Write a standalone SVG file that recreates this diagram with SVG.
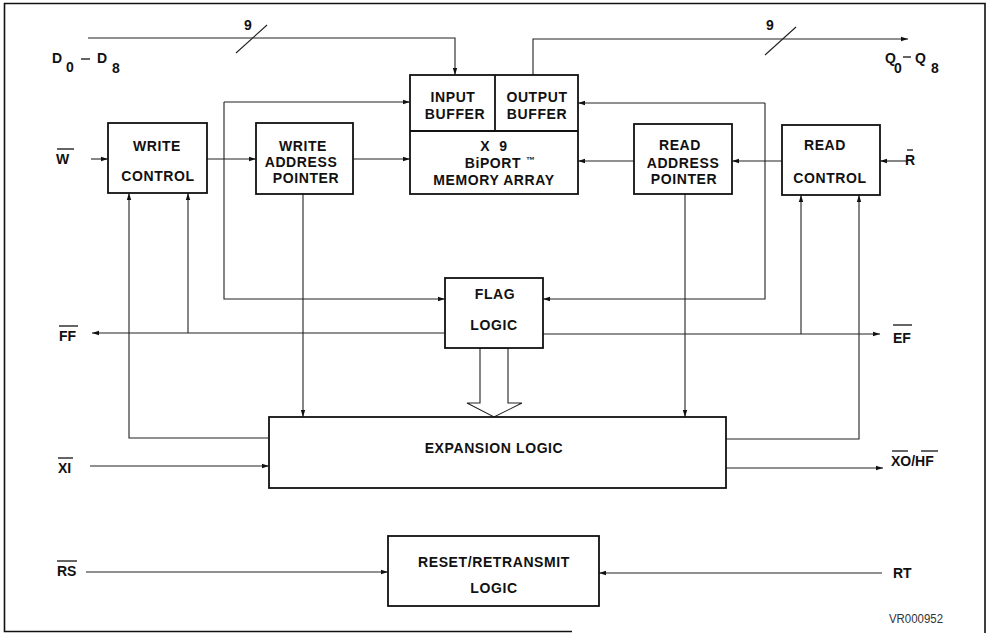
<svg xmlns="http://www.w3.org/2000/svg" width="991" height="633" viewBox="0 0 991 633">
<style>
.box{fill:#fff;stroke:#111;stroke-width:1.8}
.ln{fill:none;stroke:#222;stroke-width:1.1}
.ar{marker-end:url(#ah)}
.t{font-family:"Liberation Sans",Arial,sans-serif;font-weight:bold;font-size:14px;fill:#111;text-anchor:middle;letter-spacing:0.6px}
.lb{font-family:"Liberation Sans",Arial,sans-serif;font-weight:bold;font-size:14px;fill:#111}
.ov{stroke:#111;stroke-width:1.3}
</style>
<defs>
<marker id="ah" markerUnits="userSpaceOnUse" markerWidth="8" markerHeight="6" refX="7" refY="3" orient="auto">
<path d="M0,0.8 L7,3 L0,5.2 Z" fill="#111"/>
</marker>
</defs>
<rect width="991" height="633" fill="#fff"/>
<path class="ln" d="M572,631.5 H4.5 V3.5 H985 V633" style="stroke:#111;stroke-width:1.6"/>

<g id="connectors">
<path class="ln ar" d="M88,38 H455 V75"/>
<path class="ln" d="M236,53 L267,25"/>
<path class="ln ar" d="M533,75 V39 H908"/>
<path class="ln" d="M765,55 L796,27"/>
<path class="ln ar" d="M224,102 H410"/>
<path class="ln ar" d="M224,102 V299 H445"/>
<path class="ln ar" d="M765,103 H578"/>
<path class="ln ar" d="M765,103 V299 H543"/>
<path class="ln ar" d="M91,159 H108"/>
<path class="ln ar" d="M207,159 H256"/>
<path class="ln ar" d="M353,159 H410"/>
<path class="ln ar" d="M634,161 H578"/>
<path class="ln ar" d="M782,161 H732"/>
<path class="ln ar" d="M907,161 H880"/>
<path class="ln ar" d="M269,438 H129 V193"/>
<path class="ln ar" d="M188,333 V193"/>
<path class="ln ar" d="M445,333 H92"/>
<path class="ln ar" d="M543,334 H880"/>
<path class="ln ar" d="M801,334 V195"/>
<path class="ln ar" d="M726,439 H859 V195"/>
<path class="ln ar" d="M303,194 V417"/>
<path class="ln ar" d="M685,194 V417"/>
<path class="ln ar" d="M90,466 H269"/>
<path class="ln ar" d="M726,468 H883"/>
<path class="ln ar" d="M86,572 H388"/>
<path class="ln ar" d="M882,573 H599"/>
<polygon points="480,348 480,403 467,403 494,417 522,403 508,403 508,348" fill="#fff" stroke="#222" stroke-width="1.1"/>
</g>

<g id="write-control">
<rect class="box" x="108" y="123" width="99" height="70"/>
<text class="t" x="157" y="151">WRITE</text>
<text class="t" x="158" y="181">CONTROL</text>
</g>
<g id="write-address-pointer">
<rect class="box" x="256" y="123" width="97" height="71"/>
<text class="t" x="303" y="151">WRITE</text>
<text class="t" x="301" y="167">ADDRESS</text>
<text class="t" x="306" y="183">POINTER</text>
</g>
<g id="memory">
<rect class="box" x="410" y="75" width="168" height="119"/>
<line class="ov" x1="410" y1="131" x2="578" y2="131" style="stroke-width:1.8"/>
<line class="ov" x1="495" y1="75" x2="495" y2="131" style="stroke-width:1.8"/>
<text class="t" x="453" y="102">INPUT</text>
<text class="t" x="455" y="119">BUFFER</text>
<text class="t" x="537" y="102">OUTPUT</text>
<text class="t" x="537" y="119">BUFFER</text>
<text class="t" x="494" y="151" xml:space="preserve">X  9</text>
<text class="t" x="500" y="168">BiPORT <tspan font-size="9" dy="-5">™</tspan></text>
<text class="t" x="494" y="185">MEMORY ARRAY</text>
</g>
<g id="read-address-pointer">
<rect class="box" x="634" y="124" width="98" height="70"/>
<text class="t" x="680" y="150">READ</text>
<text class="t" x="683" y="168">ADDRESS</text>
<text class="t" x="684" y="184">POINTER</text>
</g>
<g id="read-control">
<rect class="box" x="782" y="125" width="98" height="70"/>
<text class="t" x="825" y="150">READ</text>
<text class="t" x="830" y="183">CONTROL</text>
</g>
<g id="flag-logic">
<rect class="box" x="445" y="278" width="98" height="70"/>
<text class="t" x="495" y="299">FLAG</text>
<text class="t" x="494" y="330">LOGIC</text>
</g>
<g id="expansion-logic">
<rect class="box" x="269" y="417" width="457" height="71"/>
<text class="t" x="494" y="453">EXPANSION LOGIC</text>
</g>
<g id="reset-retransmit-logic">
<rect class="box" x="388" y="536" width="211" height="70"/>
<text class="t" x="494" y="567">RESET/RETRANSMIT</text>
<text class="t" x="494" y="593">LOGIC</text>
</g>

<g id="labels">
<text class="lb" x="52" y="63" font-size="13">D</text>
<text class="lb" x="66" y="72" font-size="13">0</text>
<line class="ov" x1="81" y1="59" x2="90" y2="59"/>
<text class="lb" x="97" y="63" font-size="13">D</text>
<text class="lb" x="112" y="73" font-size="13">8</text>
<text class="lb" x="244" y="30" font-size="13">9</text>
<text class="lb" x="766" y="30" font-size="13">9</text>
<text class="lb" x="885" y="63" font-size="13">Q</text>
<text class="lb" x="894" y="73" font-size="13">0</text>
<line class="ov" x1="903" y1="57" x2="911" y2="57"/>
<text class="lb" x="915" y="63" font-size="13">Q</text>
<text class="lb" x="931" y="73" font-size="13">8</text>
<text class="lb" x="56" y="164">W</text>
<line class="ov" x1="57" y1="149" x2="74" y2="149"/>
<text class="lb" x="905" y="165">R</text>
<line class="ov" x1="907" y1="150" x2="913" y2="150"/>
<text class="lb" x="59" y="341">FF</text>
<line class="ov" x1="59" y1="326" x2="78" y2="326"/>
<text class="lb" x="893" y="343">EF</text>
<line class="ov" x1="893" y1="325" x2="912" y2="325"/>
<text class="lb" x="58" y="473">XI</text>
<line class="ov" x1="58" y1="458" x2="73" y2="458"/>
<text class="lb" x="891" y="466">XO/HF</text>
<line class="ov" x1="892" y1="451" x2="908" y2="451"/>
<line class="ov" x1="921" y1="451" x2="938" y2="451"/>
<text class="lb" x="57" y="576">RS</text>
<line class="ov" x1="57" y1="561" x2="77" y2="561"/>
<text class="lb" x="893" y="578">RT</text>
<text x="889" y="623" font-family="Liberation Sans,Arial,sans-serif" font-size="12" fill="#333" textLength="54" lengthAdjust="spacingAndGlyphs">VR000952</text>
</g>
</svg>
